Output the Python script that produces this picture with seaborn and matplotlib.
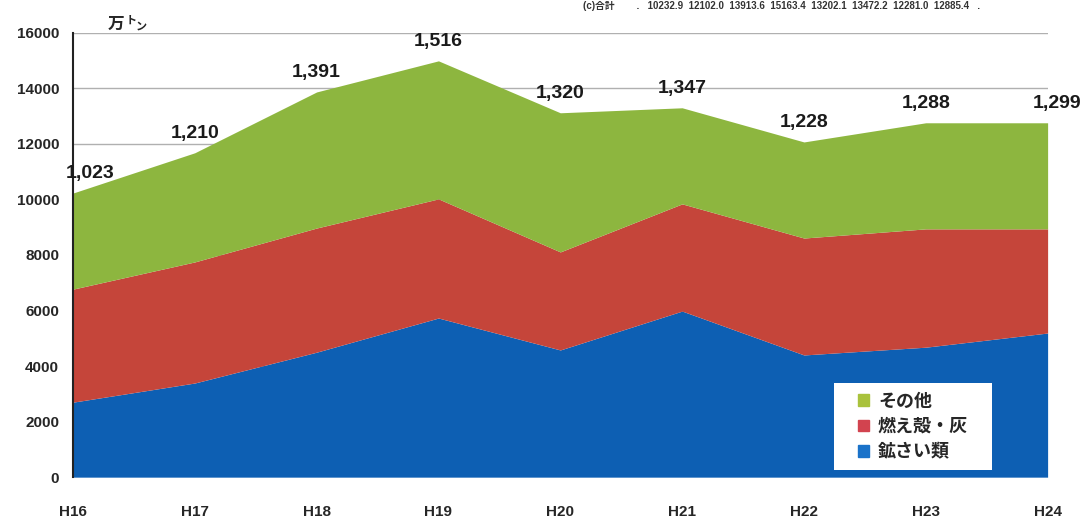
import numpy as np
import matplotlib
matplotlib.use("Agg")
import matplotlib.pyplot as plt
from matplotlib.patches import Patch, Rectangle
import seaborn as sns

# data (万トン ×10 in axis units)
years = ["H16", "H17", "H18", "H19", "H20", "H21", "H22", "H23", "H24"]
slag = [2700, 3390, 4500, 5730, 4580, 5980, 4400, 4680, 5190]      # 鉱さい類
ash = [4070, 4360, 4470, 4290, 3530, 3860, 4210, 4260, 3750]       # 燃え殻・灰
other = [3460, 3930, 4900, 4970, 5010, 3460, 3460, 3820, 3820]     # その他
total_labels = ["1,023", "1,210", "1,391", "1,516", "1,320",
                "1,347", "1,228", "1,288", "1,299"]
series_names = ["鉱さい類", "燃え殻・灰", "その他"]
table_text = "(c)合計        .   10232.9  12102.0  13913.6  15163.4  13202.1  13472.2  12281.0  12885.4   ."

sns.set_style("white")
plt.rcParams["font.family"] = ["Liberation Sans", "Noto Sans CJK JP", "DejaVu Sans"]

colors = ["#0d5fb3", "#c5453a", "#8db63f"]
legend_colors = ["#1a72c9", "#d2434f", "#a9c23c"]

fig = plt.figure(figsize=(10.89, 5.29), dpi=100)
ax = fig.add_axes([0.067, 0.098, 0.895, 0.84])

x = np.arange(len(years))
layers = [np.array(slag), np.array(ash), np.array(other)]
base = np.zeros(len(years))
for vals, c in zip(layers, colors):
    ax.fill_between(x, base, base + vals, color=c, linewidth=0, zorder=2)
    base = base + vals

ax.set_xlim(0, len(years) - 1)
ax.set_ylim(0, 16000)
ax.set_yticks(range(0, 16001, 2000))
ax.set_xticks(x)
ax.set_xticklabels(years)
ax.yaxis.grid(True, color="#b0b0b0", linewidth=1, zorder=0)
ax.set_axisbelow(True)
for s in ["top", "right", "bottom"]:
    ax.spines[s].set_visible(False)
ax.spines["left"].set_color("#222222")
ax.spines["left"].set_linewidth(1.5)
ax.tick_params(axis="x", length=0, pad=20, labelsize=11)
ax.tick_params(axis="y", length=0, pad=10, labelsize=11)
for lab in ax.get_xticklabels() + ax.get_yticklabels():
    lab.set_fontweight("bold")

# total labels above the stack
for i, t in enumerate(total_labels):
    dx = 12 if i == 0 else (7 if i == len(total_labels) - 1 else 0)
    ax.annotate(t, (x[i], base[i]), xytext=(dx, 8), textcoords="offset points",
                ha="center", va="bottom", fontsize=14, fontweight="bold",
                color="#1a1a1a", zorder=5)

# unit label
fig.text(0.099, 0.955, "万", fontsize=12, fontweight="bold",
         family=["Noto Sans CJK JP"], ha="left", va="center")
fig.text(0.115, 0.962, "ト", fontsize=8, fontweight="bold",
         family=["Noto Sans CJK JP"], ha="left", va="center")
fig.text(0.125, 0.950, "ン", fontsize=8, fontweight="bold",
         family=["Noto Sans CJK JP"], ha="left", va="center")

# scanned table fragment at top
fig.text(0.535, 0.988, table_text, fontsize=7, fontweight="bold",
         ha="left", va="center", color="#333333",
         family=["Liberation Sans", "Noto Sans CJK JP"])

# legend in a white box
fig.patches.append(Rectangle((0.766, 0.1115), 0.145, 0.1645, transform=fig.transFigure,
                             facecolor="white", edgecolor="none", zorder=5))
handles = [Patch(color=legend_colors[k]) for k in [2, 1, 0]]
labels = [series_names[k] for k in [2, 1, 0]]
leg = fig.legend(handles, labels, loc="center", bbox_to_anchor=(0.8385, 0.194),
                 frameon=False, handlelength=0.6, handleheight=0.6, handletextpad=0.5,
                 labelspacing=0.35, borderpad=0.3,
                 prop={"family": ["Noto Sans CJK JP"], "weight": "bold", "size": 13})
leg.set_zorder(6)

fig.savefig("out.png", dpi=100)
